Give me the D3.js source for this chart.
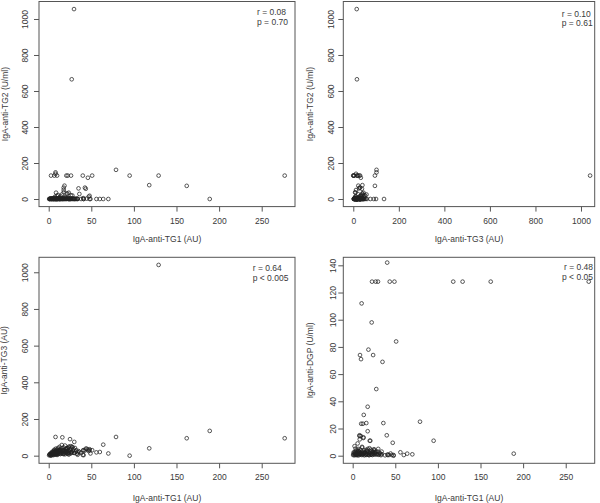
<!DOCTYPE html>
<html><head><meta charset="utf-8">
<script src="https://cdn.jsdelivr.net/npm/d3@7/dist/d3.min.js"></script>
<style>body{margin:0;background:#fff}svg{display:block}</style>
</head><body>
<svg id="c" width="600" height="503"></svg>
<script>
// ---- data: one value per subject ----
const tg1 = [29.7,27,129,277,189,162,118,95,79,70,64,60,56,51,49,47,48,46,43.5,42.5,40.5,40,36,35,34,25,30,22.3,20.7,26.2,18.5,17.6,17.6,17.6,8.6,9.8,8,8,6.6,2.7,10.5,24,27.7,13,16,12,10,9.5,12.5,20,23.5,22,41,22.7,
 0.5,1,1.5,2,2.5,3,3.2,3.6,4,4.3, 4.7,5,5.3,5.6,6,6.3,6.7,7,7.4,7.8, 8.1,8.5,8.9,9.2,9.6,10,10.4,10.8,11.2,11.6,
 12,12.4,12.9,13.3,13.8,14.2,14.7,15.1,15.6,16, 16.5,17,17.5,18,18.6,19.1,19.7,20.2,20.8,21.4, 22,22.6,23.2,23.8,24.4,25,25.7,26.4,27.1,27.8,
 28.5,29.2,30,30.8,31.6,32.4,33.2,34,1.2,2.2, 3.4,4.5,5.8,6.5,7.2,8.3,9.4,11,12.7,14, 15.4,17.3,19.4,21,23.5,26,38,41,44.5,48];
const tg2 = [1055,665,130,130,0,73,77,130,162,0,0,0,0,130,0,13,18,118,57,63,5,130,28,59,0,0,0,130,130,130,74,63,50,37,35,130,148,140,130,130,0,0,20,0,0,4,2,0,1,3,35,30,0,2,
 0,1,0,2,0,1,3,0,1,0, 2,0,1,0,3,0,1,2,0,1, 0,2,0,1,0,3,0,1,2,0,
 1,0,2,0,1,0,3,0,1,2, 0,1,0,2,0,1,0,3,0,1, 2,0,1,0,2,0,1,0,3,0,
 1,0,2,0,1,0,2,1,0,1, 0,2,1,0,12,0,18,22,8,15, 25,5,10,30,6,20,0,0,2,0];
const tg3 = [15,16,1040,95,135,95,40,0,102,12,60,20,18,30,12,25,35,33,38,28,30,4,20,25,5,90,75,17,26,20,22,30,12,8,10,4,102,12,17,0,20,15,48,30,100,25,18,22,28,35,45,40,3,10,
 2,5,8,3,10,6,12,4,9,15, 7,11,3,14,18,8,5,20,12,9, 16,25,6,13,22,10,30,14,8,19,
 26,12,35,17,9,28,21,40,14,24, 32,11,45,19,27,55,16,36,22,13, 42,28,18,50,24,33,12,38,20,45,
 27,35,15,42,22,30,10,18,7,12, 18,22,26,32,28,38,33,42,48,10, 58,30,8,40,6,52,15,28,38,30];
const dgp = [128,128,128,128,1.5,128,128,11,25,1,1.5,0.5,2.5,84,128,9.5,0,0.5,128,0.5,142,15,24,69,3,4,5,98,11,2,78,36,18,5,74,71,15,14.5,2,1,112,74,49,30,24,23.5,23.5,14.5,13,11,3,1,0.5,128,
 0.5,1,2,0.3,1.5,3,0.8,2.5,1.2,0.4, 4,1.8,0.6,2.2,1,5,0.2,3.5,1.4,2.8, 0.7,1.6,4.5,0.9,2,1.1,3,0.5,6,1.3,
 2.4,0.8,1.7,3.8,0.3,1.9,2.6,1,4.2,0.6, 1.5,3.2,0.9,2.1,1.2,0.4,5.5,1.8,2.9,0.7, 1.3,3.6,0.5,2.3,1,4.8,1.6,0.8,2.7,1.4,
 0.9,3.1,1.2,0.6,2,1.5,0.4,1.1,2.5,7, 5.2,0.8,9,3.3,1.4,12,1.9,6.5,13.5,2.2, 1,3.8,0.5,4.4,1.7,2.8,0.3,0.9,1.6,0.5];

// ---- tick labels ----
const ticksTG1 = [0,50,100,150,200,250];
const ticksTG3x = [0,200,400,600,800,1000];
const ticks1000 = [0,200,400,600,800,1000];
const ticksDGP = [0,20,40,60,80,100,120,140];

// ---- labels ----
const xTitles = ["IgA-anti-TG1 (AU)","IgA-anti-TG3 (AU)","IgA-anti-TG1 (AU)","IgA-anti-TG1 (AU)"];
const yTitles = ["IgA-anti-TG2 (U/ml)","IgA-anti-TG2 (U/ml)","IgA-anti-TG3 (AU)","IgA-anti-DGP (U/ml)"];
const statR = ["r = 0.08","r = 0.10","r = 0.64","r = 0.48"];
const statP = ["p = 0.70","p = 0.61","p < 0.005","p < 0.05"];

// ---- layout (pixels) ----
const panels = [
 {xs:tg1, ys:tg2, box:{l:39,t:1.5,r:295,b:206.6}, xlim:[-11.4,289.1], ylim:[-42.2,1097.2], xt:ticksTG1, yt:ticks1000,
  xLabY:221, xTitY:239.5, yLabX:25, yTitX:5, stat:{x:257,y1:15.3,y2:24.5,anchor:"start"}},
 {xs:tg3, ys:tg2, box:{l:343.3,t:1.5,r:594.7,b:206.6}, xlim:[-43.9,1060.2], ylim:[-42.2,1097.2], xt:ticksTG3x, yt:ticks1000,
  xLabY:221, xTitY:239.5, yLabX:330.7, yTitX:310, stat:{x:561.7,y1:16.8,y2:26.3,anchor:"start"}},
 {xs:tg1, ys:tg3, box:{l:39,t:257.3,r:295,b:463.3}, xlim:[-11.4,289.1], ylim:[-41.6,1081.6], xt:ticksTG1, yt:ticks1000,
  xLabY:477.3, xTitY:498, yLabX:25, yTitX:4, stat:{x:252.7,y1:271.3,y2:280.8,anchor:"start"}},
 {xs:tg1, ys:dgp, box:{l:343.3,t:257.3,r:594.7,b:463.3}, xlim:[-11.0,284.0], ylim:[-5.59,145.9], xt:ticksTG1, yt:ticksDGP,
  xLabY:477.3, xTitY:498, yLabX:333, yTitX:310, stat:{x:593,y1:269.5,y2:279.8,anchor:"end"}}
];

const FONT = "'Liberation Sans', Arial, Helvetica, sans-serif";
const TXT = "#3a3a3a";
const svg = d3.select("#c");
svg.append("rect").attr("width",600).attr("height",503).attr("fill","#fff");

panels.forEach((p,i)=>{
  const b = p.box;
  const x = d3.scaleLinear().domain(p.xlim).range([b.l,b.r]);
  const y = d3.scaleLinear().domain(p.ylim).range([b.b,b.t]);
  const g = svg.append("g");

  // x axis
  const xa = g.append("g").attr("transform",`translate(0,${b.b})`)
    .call(d3.axisBottom(x).tickValues(p.xt).tickSize(5).tickPadding(0).tickFormat(d3.format("d")));
  xa.select(".domain").remove();
  xa.selectAll("line").attr("stroke","#555");
  xa.selectAll("text").attr("y", p.xLabY - b.b).attr("dy","0.35em")
    .attr("font-family",FONT).attr("font-size","8.5px").attr("fill",TXT);

  // y axis (labels rotated as in R)
  const ya = g.append("g").attr("transform",`translate(${b.l},0)`)
    .call(d3.axisLeft(y).tickValues(p.yt).tickSize(5).tickFormat(d3.format("d")));
  ya.select(".domain").remove();
  ya.selectAll("line").attr("stroke","#555");
  ya.selectAll("text").attr("transform","rotate(-90)").attr("x",0).attr("y", p.yLabX - b.l)
    .attr("dy","0.35em").attr("text-anchor","middle")
    .attr("font-family",FONT).attr("font-size","8.5px").attr("fill",TXT);

  // box
  g.append("rect").attr("x",b.l).attr("y",b.t).attr("width",b.r-b.l).attr("height",b.b-b.t)
    .attr("fill","none").attr("stroke","#555").attr("stroke-width",1);

  // points
  g.append("g").selectAll("circle").data(p.xs.map((v,k)=>[v,p.ys[k]])).join("circle")
    .attr("cx",d=>x(d[0])).attr("cy",d=>y(d[1])).attr("r",1.85)
    .attr("fill","none").attr("stroke","#222").attr("stroke-width",0.75);

  // titles
  g.append("text").attr("x",(b.l+b.r)/2).attr("y",p.xTitY).attr("dy","0.35em").attr("text-anchor","middle")
    .attr("font-family",FONT).attr("font-size","8.5px").attr("fill",TXT).text(xTitles[i]);
  g.append("text").attr("transform",`translate(${p.yTitX},${(b.t+b.b)/2}) rotate(-90)`).attr("dy","0.35em")
    .attr("text-anchor","middle").attr("font-family",FONT).attr("font-size","8.5px").attr("fill",TXT).text(yTitles[i]);

  // stats
  g.append("text").attr("x",p.stat.x).attr("y",p.stat.y1).attr("text-anchor",p.stat.anchor)
    .attr("font-family",FONT).attr("font-size","8.5px").attr("fill",TXT).text(statR[i]);
  g.append("text").attr("x",p.stat.x).attr("y",p.stat.y2).attr("text-anchor",p.stat.anchor)
    .attr("font-family",FONT).attr("font-size","8.5px").attr("fill",TXT).text(statP[i]);
});
</script>
</body></html>
